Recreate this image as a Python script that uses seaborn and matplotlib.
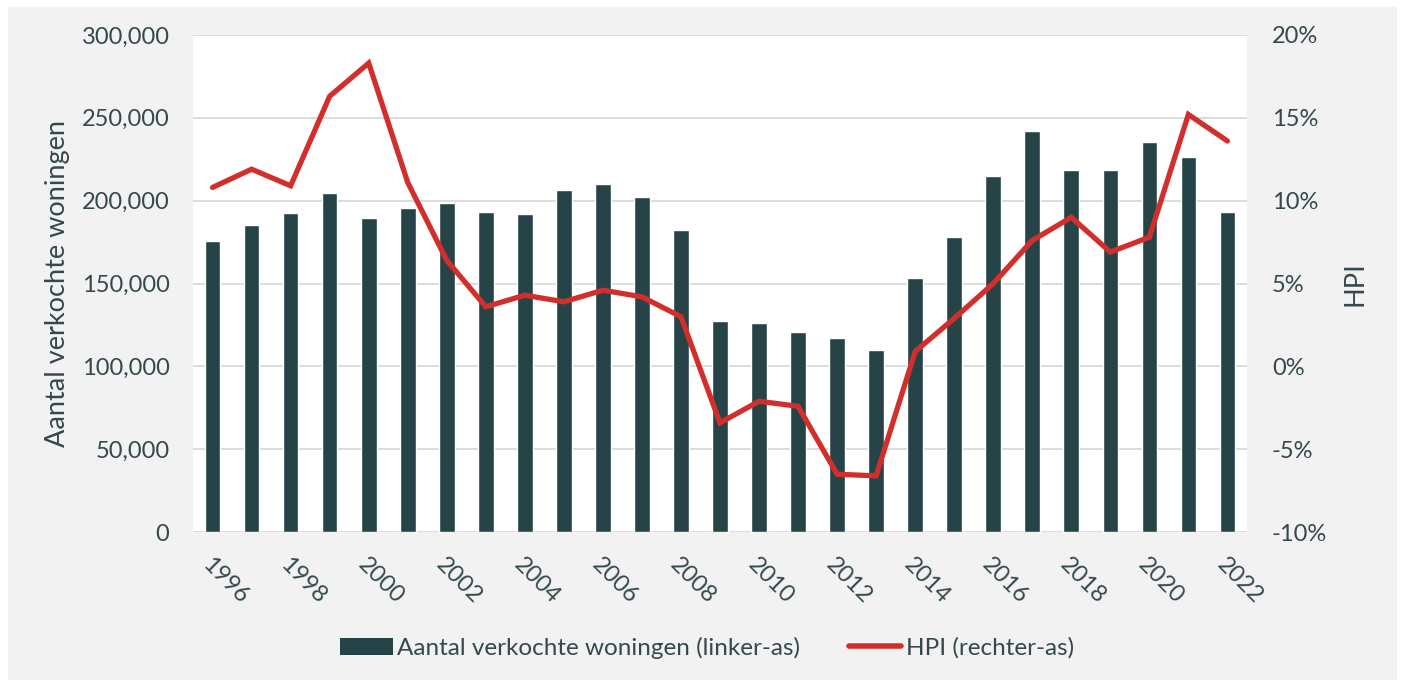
import numpy as np
import pandas as pd
import seaborn as sns
import matplotlib.pyplot as plt
from matplotlib.patches import Patch, Rectangle
from matplotlib.lines import Line2D
from matplotlib.ticker import FuncFormatter

# data
years = list(range(1996, 2023))
sold = [175400, 185600, 192600, 204400, 189300, 195700, 198500, 193400, 191700,
        206400, 209900, 202200, 182400, 127300, 126100, 120600, 117100, 110000,
        153400, 178100, 214800, 242100, 218500, 218500, 235400, 226200, 193000]
hpi = [10.8, 11.9, 10.9, 16.3, 18.3, 11.1, 6.4, 3.6, 4.3, 3.9, 4.6, 4.2, 3.0,
       -3.4, -2.1, -2.4, -6.5, -6.6, 0.9, 2.9, 5.0, 7.6, 9.0, 6.9, 7.8, 15.2, 13.6]

bar_label = "Aantal verkochte woningen (linker-as)"
line_label = "HPI (rechter-as)"

df = pd.DataFrame({"year": years, "sold": sold, "hpi": hpi})

bar_col = "#264348"
line_col = "#d22f2c"
txt_col = "#33494e"
grid_col = "#d9d9d9"

sns.set_style("white")
plt.rcParams['font.family'] = ['Lato', 'DejaVu Sans']
plt.rcParams['text.color'] = txt_col

fig = plt.figure(figsize=(14.02, 6.82), dpi=100, facecolor="white")
# grey panel behind everything
fig.patches.append(Rectangle((8 / 1402, 2 / 682), 1389 / 1402, 673 / 682,
                             transform=fig.transFigure, facecolor="#f2f2f2",
                             edgecolor="none", zorder=-10))
ax = fig.add_axes([0.1377, 0.2196, 0.7517, 0.7292])
ax.set_facecolor("white")

sns.barplot(data=df, x="year", y="sold", native_scale=True, color=bar_col,
            width=0.4, saturation=1, ax=ax, zorder=3)
ax.set_ylim(0, 300000)
ax.set_xlim(1995.5, 2022.5)
ax.set_yticks(range(0, 300001, 50000))
ax.yaxis.set_major_formatter(FuncFormatter(lambda v, p: f"{v:,.0f}"))
ax.set_xticks(range(1996, 2023, 2))
ax.grid(axis="y", color=grid_col, linewidth=1.3, zorder=0)
ax.grid(axis="x", visible=False)
for s in ax.spines.values():
    s.set_visible(False)
ax.tick_params(axis="y", length=0, pad=17, labelsize=17, labelcolor=txt_col)
ax.tick_params(axis="x", length=0, pad=16, labelsize=17, labelcolor=txt_col)
for lab in ax.get_xticklabels():
    lab.set_rotation(-45)
    lab.set_ha("left")
    lab.set_va("top")
    lab.set_rotation_mode("anchor")
ax.set_xlabel("")
ax.set_ylabel("Aantal verkochte woningen", fontsize=19.5, color=txt_col)
ax.yaxis.set_label_coords(-0.117, 0.5)

ax2 = ax.twinx()
sns.lineplot(data=df, x="year", y="hpi", color=line_col, linewidth=3.8,
             ax=ax2, solid_capstyle="round", solid_joinstyle="miter")
ax2.set_ylim(-10, 20)
ax2.set_yticks(range(-10, 21, 5))
ax2.yaxis.set_major_formatter(FuncFormatter(lambda v, p: f"{v:.0f}%"))
ax2.grid(False)
for s in ax2.spines.values():
    s.set_visible(False)
ax2.tick_params(axis="y", length=0, pad=18, labelsize=17, labelcolor=txt_col)
ax2.set_ylabel("HPI", fontsize=19.5, color=txt_col)
ax2.yaxis.set_label_coords(1.091, 0.5)

handles = [Patch(facecolor=bar_col, edgecolor="none"),
           Line2D([0], [0], color=line_col, linewidth=4, solid_capstyle="round")]
fig.legend(handles, [bar_label, line_label], loc="center",
           bbox_to_anchor=(0.5045, 0.05), ncol=2, frameon=False, fontsize=17.5,
           handlelength=2.15, handletextpad=0.2, columnspacing=2.0)

fig.savefig("out.png", dpi=100, facecolor=fig.get_facecolor())
